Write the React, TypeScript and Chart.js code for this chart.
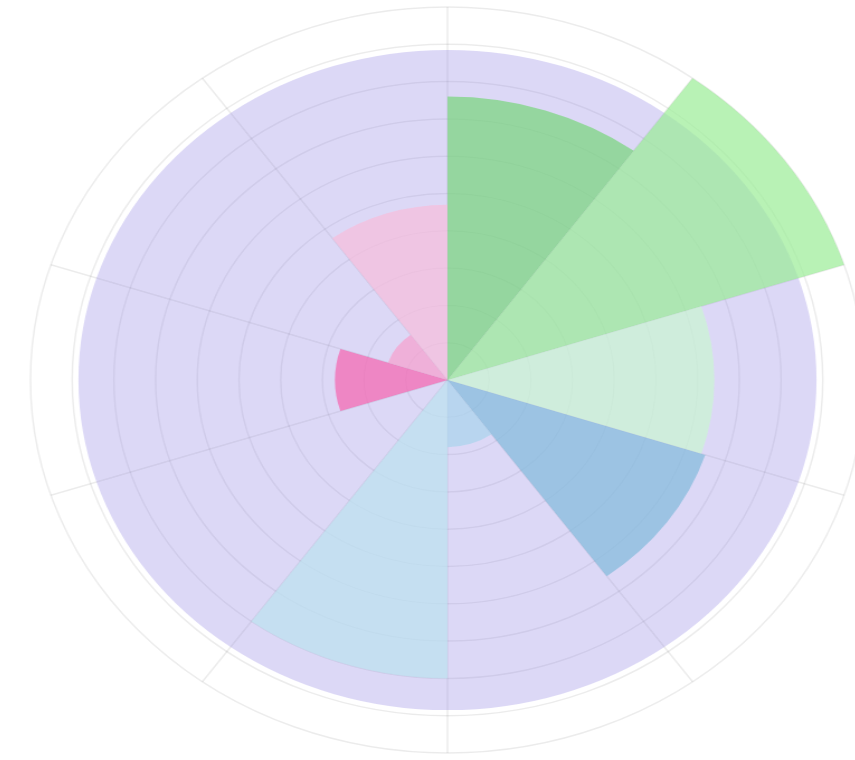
import React, { useEffect, useRef } from 'react';
import { Chart, registerables } from 'chart.js';

Chart.register(...registerables);

// Segment labels (clockwise from the top)
const categories = ['S1', 'S2', 'S3', 'S4', 'S5', 'S6', 'S7', 'S8', 'S9', 'S10'];

// Foreground series values (scale 0..10)
const seriesValues = [7.6, 10, 6.4, 6.5, 1.8, 8.0, 0, 2.7, 1.5, 4.7];

// Background (lavender) series values
const backgroundValues = [8.85, 8.85, 8.85, 8.85, 8.85, 8.85, 8.85, 8.85, 8.85, 8.85];

const seriesColors = [
  'rgba(120,213,123,0.7)',
  'rgba(154,236,149,0.7)',
  'rgba(203,247,209,0.7)',
  'rgba(130,186,220,0.7)',
  'rgba(170,212,236,0.7)',
  'rgba(188,227,240,0.7)',
  'rgba(200,200,240,0.7)',
  'rgba(246,100,175,0.7)',
  'rgba(248,160,205,0.7)',
  'rgba(248,190,220,0.7)',
];
const lavender = 'rgba(140,125,225,0.3)';

const scaleMin = 0;
const scaleMax = 10;
const scaleStep = 1;

const SIZE = 754;
const SCALE_X = 417 / 373;

export default function App() {
  const ref = useRef<HTMLCanvasElement | null>(null);
  useEffect(() => {
    if (!ref.current) return;
    const chart = new Chart(ref.current, {
      type: 'polarArea',
      data: {
        labels: categories,
        datasets: [
          {
            data: seriesValues,
            backgroundColor: seriesColors,
            borderWidth: 0,
          },
          {
            data: backgroundValues,
            backgroundColor: lavender,
            borderWidth: 0,
          },
        ],
      },
      options: {
        responsive: false,
        animation: false,
        layout: { padding: 4 },
        plugins: {
          legend: { display: false },
          tooltip: { enabled: false },
        },
        scales: {
          r: {
            min: scaleMin,
            max: scaleMax,
            ticks: { display: false, stepSize: scaleStep },
            grid: { circular: true, color: 'rgba(0,0,0,0.08)', lineWidth: 1.5 },
            angleLines: { display: true, color: 'rgba(0,0,0,0.08)', lineWidth: 1.5 },
            pointLabels: { display: false },
          },
        },
      },
    });
    return () => chart.destroy();
  }, []);

  return (
    <div style={{ position: 'absolute', left: 0, top: 0, width: 855, height: 760, overflow: 'hidden', background: '#fff' }}>
      <div
        style={{
          position: 'absolute',
          left: 447 - 377 * SCALE_X,
          top: 3,
          width: SIZE,
          height: SIZE,
          transform: `scale(${SCALE_X}, 1)`,
          transformOrigin: '0 0',
        }}
      >
        <canvas ref={ref} width={SIZE} height={SIZE} />
      </div>
    </div>
  );
}
